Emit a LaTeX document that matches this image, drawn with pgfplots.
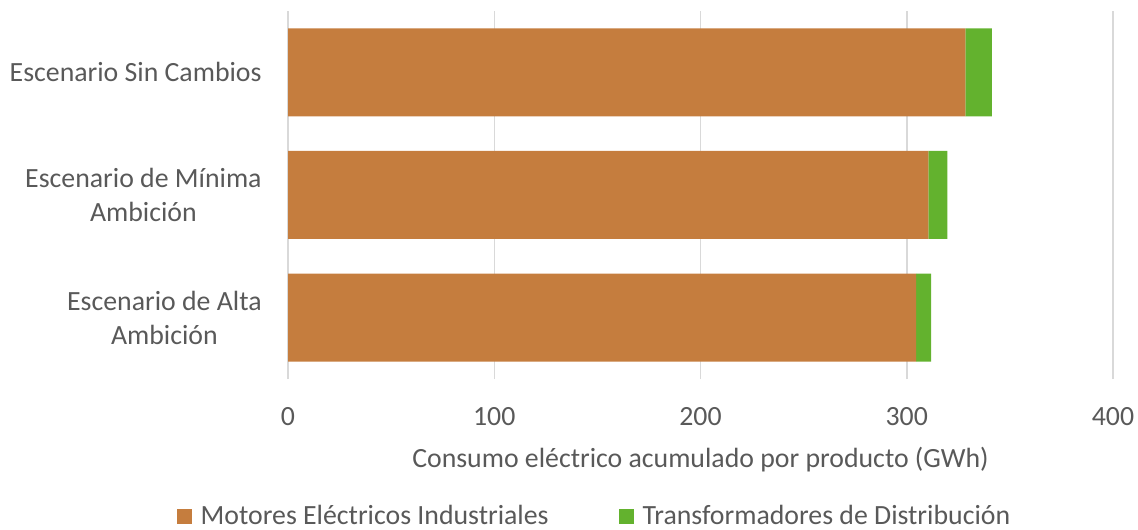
\documentclass[border=0pt]{standalone}
\usepackage{pgfplots}
\pgfplotsset{compat=1.18}
\usepackage{fontspec}
\setmainfont{Carlito}

\definecolor{motor}{RGB}{197,125,62}
\definecolor{trafo}{RGB}{99,178,46}
\definecolor{txt}{RGB}{89,89,89}
\definecolor{grd}{RGB}{217,217,217}

\begin{document}
\begin{tikzpicture}
  \begin{axis}[
    name=ax,
    scale only axis,
    width=412.5pt, height=184pt,
    xbar stacked, bar width=44pt,
    xmin=0, xmax=400,
    ymin=-0.5, ymax=2.5,
    xtick={0,100,200,300,400},
    ytick={0,1,2},
    yticklabels={Escenario de Alta\\Ambición, Escenario de Mínima\\Ambición, Escenario Sin Cambios},
    xmajorgrids, grid style={grd, line width=0.75pt},
    axis line style={draw=none},
    major tick style={draw=none},
    font=\fontsize{13.9}{17}\selectfont,
    /pgf/number format/assume math mode=true,
    every tick label/.append style={text=txt},
    xticklabel style={anchor=base, inner sep=0pt, yshift=-23pt},
    yticklabel style={anchor=east, inner sep=0pt, xshift=-13pt, align=center},
    xlabel={Consumo eléctrico acumulado por producto (GWh)},
    xlabel style={at={(axis description cs:0.5,0)}, anchor=base, inner sep=0pt, yshift=-44pt, text=txt},
    legend columns=2,
    legend style={draw=none, fill=none, text=txt,
      at={(axis description cs:0.3727,-0.3723)}, anchor=center,
      /tikz/every odd column/.append style={column sep=2.5pt},
      /tikz/every even column/.append style={column sep=33pt}},
    legend image code/.code={\fill[#1] (0pt,-3.75pt) rectangle (7.5pt,3.75pt);},
  ]
    \addplot[fill=motor, draw=none] coordinates {(304.5,0) (310.5,1) (328.4,2)};
    \addplot[fill=trafo, draw=none] coordinates {(7.3,0) (9.2,1) (12.9,2)};
    \legend{Motores Eléctricos Industriales, Transformadores de Distribución}
  \end{axis}
  \pgfresetboundingbox
  \path ([xshift=-144pt,yshift=-75pt]ax.south west) rectangle ([xshift=425pt,yshift=189.5pt]ax.south west);
\end{tikzpicture}
\end{document}
